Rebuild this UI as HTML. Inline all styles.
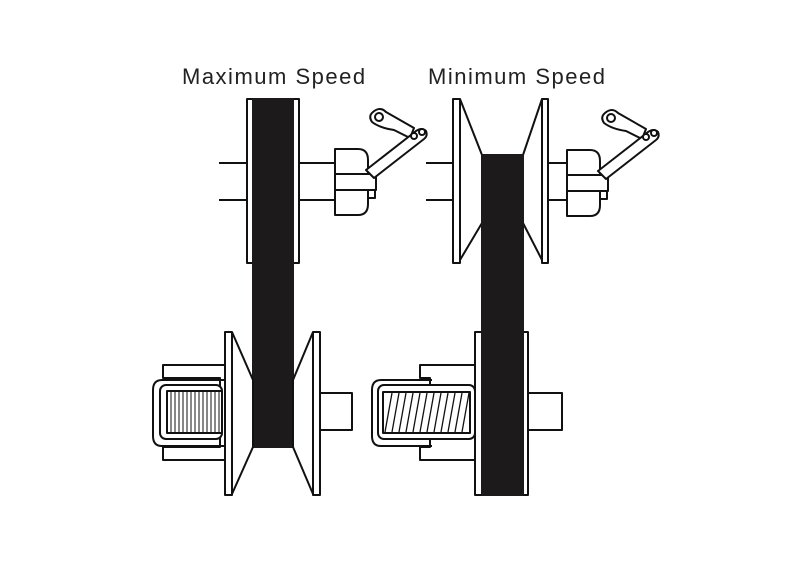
<!DOCTYPE html>
<html><head><meta charset="utf-8"><style>
html,body{margin:0;padding:0;background:#fff;width:785px;height:567px;overflow:hidden}
svg{display:block}
text{font-family:"Liberation Sans","DejaVu Sans",sans-serif;font-size:22px;letter-spacing:1.5px;fill:#222}
</style></head><body>
<svg width="785" height="567" viewBox="0 0 785 567" xmlns="http://www.w3.org/2000/svg">
<defs>
<g id="gov" fill="#fff" stroke="#111" stroke-width="2" stroke-linejoin="round">
  <path d="M335 149 H358 Q368 149 368 160 V204 Q368 215 358 215 H335 Z"/>
  <rect x="335" y="174" width="41" height="16"/>
  <rect x="368" y="190" width="7" height="8" />
  <path d="M373 112 Q380 106 386 112 L414 128 L410 138 L394 130 Q380 128 372 122 Q368 116 373 112 Z"/>
  <circle cx="379" cy="117" r="4"/>
  <path d="M366 170 L416 131 Q422 127 426 131 Q428 136 424 139 L374 178 Z"/>
  <circle cx="414" cy="136" r="3"/>
  <circle cx="422" cy="132" r="3"/>
</g>
</defs>

<text x="182" y="84">Maximum Speed</text>
<text x="428" y="84">Minimum Speed</text>

<g fill="#fff" stroke="#111" stroke-width="2" stroke-linejoin="round">
<line x1="219" y1="163" x2="247" y2="163"/><line x1="219" y1="200" x2="247" y2="200"/>
<line x1="298" y1="163" x2="335" y2="163"/><line x1="298" y1="200" x2="335" y2="200"/>
<rect x="247" y="99" width="6" height="164"/>
<rect x="293" y="99" width="6" height="164"/>
<rect x="253" y="99" width="40" height="348" fill="#1c1a1a" stroke="#1c1a1a"/>
<use href="#gov"/>

<path d="M163 365 H225 V460 H163 V447 H220 V378 H163 Z"/>
<path d="M225 380 H162 Q153 380 153 390 V436 Q153 446 162 446 H225" fill="none"/>
<rect x="160" y="385" width="62" height="54" rx="6"/>
<rect x="167" y="391" width="55" height="42"/>
<g stroke-width="1">
<line x1="171" y1="392" x2="171" y2="432"/><line x1="175" y1="392" x2="175" y2="432"/><line x1="179" y1="392" x2="179" y2="432"/><line x1="183" y1="392" x2="183" y2="432"/><line x1="187" y1="392" x2="187" y2="432"/><line x1="191" y1="392" x2="191" y2="432"/><line x1="195" y1="392" x2="195" y2="432"/><line x1="199" y1="392" x2="199" y2="432"/><line x1="203" y1="392" x2="203" y2="432"/><line x1="207" y1="392" x2="207" y2="432"/><line x1="211" y1="392" x2="211" y2="432"/><line x1="215" y1="392" x2="215" y2="432"/><line x1="219" y1="392" x2="219" y2="432"/>
</g>
<rect x="318" y="393" width="34" height="37"/>
<path d="M225 332 H232 L253 380 V447 L232 494 V495 H225 Z"/>
<path d="M320 332 H313 L293 380 V447 L313 494 V495 H320 Z"/>
<line x1="232" y1="332" x2="232" y2="495"/><line x1="313" y1="332" x2="313" y2="495"/>

<line x1="426" y1="163" x2="453" y2="163"/><line x1="426" y1="200" x2="453" y2="200"/>
<line x1="548" y1="163" x2="567" y2="163"/><line x1="548" y1="200" x2="567" y2="200"/>
<path d="M453 99 H460 L482 155 V223 L460 260 V263 H453 Z"/>
<path d="M548 99 H542 L523 155 V223 L542 260 V263 H548 Z"/>
<line x1="460" y1="99" x2="460" y2="263"/><line x1="542" y1="99" x2="542" y2="263"/>
<use href="#gov" transform="translate(232,1)"/>

<path d="M420 365 H475 V460 H420 V447 H430 V378 H420 Z"/>
<path d="M432 380 H381 Q372 380 372 390 V436 Q372 446 381 446 H432" fill="none"/>
<rect x="378" y="385" width="97" height="54" rx="6"/>
<rect x="383" y="392" width="87" height="41"/>
<g stroke-width="1.3" fill="none">
<path d="M385 432 L392 393 M392 432 L399 393 M399 432 L406 393 M406 432 L413 393 M413 432 L420 393 M420 432 L427 393 M427 432 L434 393 M434 432 L441 393 M441 432 L448 393 M448 432 L455 393 M455 432 L462 393 M462 432 L469 393"/>
</g>
<rect x="525" y="393" width="37" height="37"/>
<rect x="475" y="332" width="7" height="163"/>
<rect x="523" y="332" width="5" height="163"/>
<rect x="482" y="155" width="41" height="340" fill="#1c1a1a" stroke="#1c1a1a"/>
</g>
</svg>
</body></html>
